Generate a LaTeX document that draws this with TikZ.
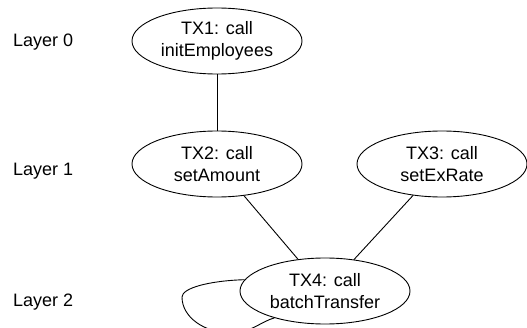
\documentclass[tikz,border=0pt]{standalone}
\usepackage{fontspec}
\setmainfont{Liberation Sans}
\usetikzlibrary{shapes.geometric}
\begin{document}
\begin{tikzpicture}[x=1pt,y=1pt,
  tx/.style={ellipse,draw,line width=0.9pt,minimum width=170pt,minimum height=66pt,inner sep=0pt,align=center,font=\fontsize{18}{22}\selectfont},
  lay/.style={anchor=west,inner sep=0pt,font=\fontsize{18}{22}\selectfont},
  conn/.style={line width=0.9pt}]
\clip (0,0) rectangle (527,327);
\fill[white] (0,0) rectangle (527,327);
\node[lay] (l0) at (13,285) {Layer 0};
\node[lay] (l1) at (13,156) {Layer 1};
\node[lay] (l2) at (13,25) {Layer 2};
\node[tx] (t1) at (217,286) {TX1: call\\initEmployees};
\node[tx] (t2) at (217,163) {TX2: call\\setAmount};
\node[tx] (t3) at (442,163) {TX3: call\\setExRate};
\node[tx] (t4) at (325,36) {TX4: call\\batchTransfer};
\coordinate (lpa) at (182,30);
\coordinate (lpb) at (232,-6);
\draw[conn] (t4.172) .. controls +(-35,-1) and +(0,9) .. (lpa)
  .. controls +(0,-20) and +(-28,0) .. (lpb)
  .. controls +(18,0) and +(-12,-3) .. (t4.208);
\draw[conn] (t1) -- (t2);
\draw[conn] (t2) -- (t4);
\draw[conn] (t3) -- (t4);
\end{tikzpicture}
\end{document}
